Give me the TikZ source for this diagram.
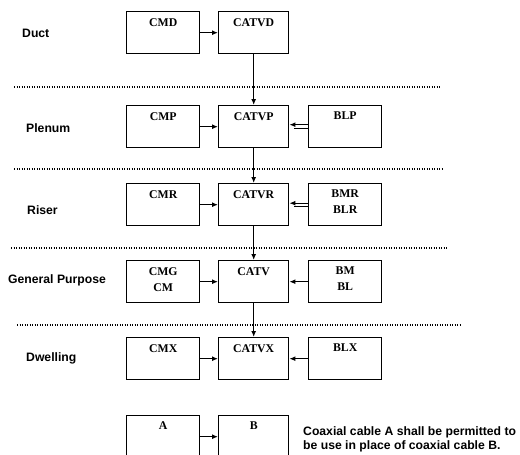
\documentclass[tikz,border=0pt]{standalone}
\usepackage{fontspec}
\setmainfont{Liberation Serif}
\newfontfamily\labfont{Liberation Sans}
\usetikzlibrary{arrows.meta}
\tikzset{
  cab/.style={draw, line width=1.4pt, rectangle, minimum width=73pt, minimum height=42pt, anchor=north west, inner sep=0pt},
  cabm/.style={cab, minimum width=70pt},
  btxt/.style={anchor=north, inner sep=0pt, font=\fontsize{11.8}{16}\selectfont\bfseries, align=center, yshift=-7pt},
  lev/.style={anchor=west, inner sep=0pt, font=\labfont\fontsize{12.2}{14}\selectfont\bfseries},
  note/.style={anchor=west, inner sep=0pt, align=left, font=\labfont\fontsize{12.2}{14}\selectfont\bfseries},
  arr/.style={line width=1.4pt, -{Latex[length=6pt,width=5pt]}},
  sep/.style={line width=1.6pt, dash pattern=on 1.2pt off 1.3pt},
}
\begin{document}
\begin{tikzpicture}[x=1pt,y=-1pt]
\useasboundingbox (0,0) rectangle (520,455);
\clip (0,0) rectangle (520,455);
% separators
\draw[sep] (14,87) -- (440,87);
\draw[sep] (14,169) -- (443,169);
\draw[sep] (11,248) -- (448,248);
\draw[sep] (17,325) -- (460,325);
% level labels
\node[lev] (lduct) at (22,33) {Duct};
\node[lev] (lplen) at (26,128) {Plenum};
\node[lev] (lris) at (27,210) {Riser};
\node[lev] (lgp) at (8,280) {General Purpose};
\node[lev] (ldw) at (26,358) {Dwelling};
% Duct
\node[cab] (cmd) at (126,11) {};
\node[cabm] (catvd) at (218,11) {};
\node[btxt] (tcmd) at (cmd.north) {CMD};
\node[btxt] (tcatvd) at (catvd.north) {CATVD};
% Plenum
\node[cab] (cmp) at (126,105) {};
\node[cabm] (catvp) at (218,105) {};
\node[cab] (blp) at (308,105) {};
\node[btxt] (tcmp) at (cmp.north) {CMP};
\node[btxt] (tcatvp) at (catvp.north) {CATVP};
\node[btxt] (tblp) at (blp.north) {BLP};
% Riser
\node[cab] (cmr) at (126,183) {};
\node[cabm] (catvr) at (218,183) {};
\node[cab] (bmr) at (308,183) {};
\node[btxt] (tcmr) at (cmr.north) {CMR};
\node[btxt] (tcatvr) at (catvr.north) {CATVR};
\node[btxt] (tbmr) at (bmr.north) {BMR\\BLR};
% General purpose
\node[cab] (cmg) at (126,260) {};
\node[cabm] (catv) at (218,260) {};
\node[cab] (bm) at (308,260) {};
\node[btxt] (tcmg) at (cmg.north) {CMG\\CM};
\node[btxt] (tcatv) at (catv.north) {CATV};
\node[btxt] (tbm) at (bm.north) {BM\\BL};
% Dwelling
\node[cab] (cmx) at (126,337) {};
\node[cabm] (catvx) at (218,337) {};
\node[cab] (blx) at (308,337) {};
\node[btxt] (tcmx) at (cmx.north) {CMX};
\node[btxt] (tcatvx) at (catvx.north) {CATVX};
\node[btxt] (tblx) at (blx.north) {BLX};
% Legend
\node[cab] (ba) at (126,415) {};
\node[cabm] (bb) at (218,415) {};
\node[btxt] (ta) at (ba.north) {A};
\node[btxt] (tb) at (bb.north) {B};
\node[note] (nt) at (303,439) {Coaxial cable A shall be permitted to\\be use in place of coaxial cable B.};
% horizontal arrows
\draw[arr] (cmd.east) -- (catvd.west);
\draw[arr] (cmp.east) -- (catvp.west);
\draw[arr] (cmr.east) -- (catvr.west);
\draw[arr] (cmg.east) -- (catv.west);
\draw[arr] (cmx.east) -- (catvx.west);
\draw[arr] (ba.east) -- (bb.west);
\draw[arr] ([yshift=2pt]blp.west) -- ([yshift=2pt]catvp.east);
\draw[line width=1pt] ([yshift=-1.4pt]blp.west) -- ([yshift=-1.4pt,xshift=5pt]catvp.east);
\draw[arr] ([yshift=1.5pt]bmr.west) -- ([yshift=1.5pt]catvr.east);
\draw[line width=1pt] ([yshift=-1.9pt]bmr.west) -- ([yshift=-1.9pt,xshift=5pt]catvr.east);
\draw[arr] (bm.west) -- (catv.east);
\draw[arr] (blx.west) -- (catvx.east);
% vertical arrows
\draw[arr] (catvd.south) -- (catvp.north);
\draw[arr] (catvp.south) -- (catvr.north);
\draw[arr] (catvr.south) -- (catv.north);
\draw[arr] (catv.south) -- (catvx.north);
\end{tikzpicture}
\end{document}
